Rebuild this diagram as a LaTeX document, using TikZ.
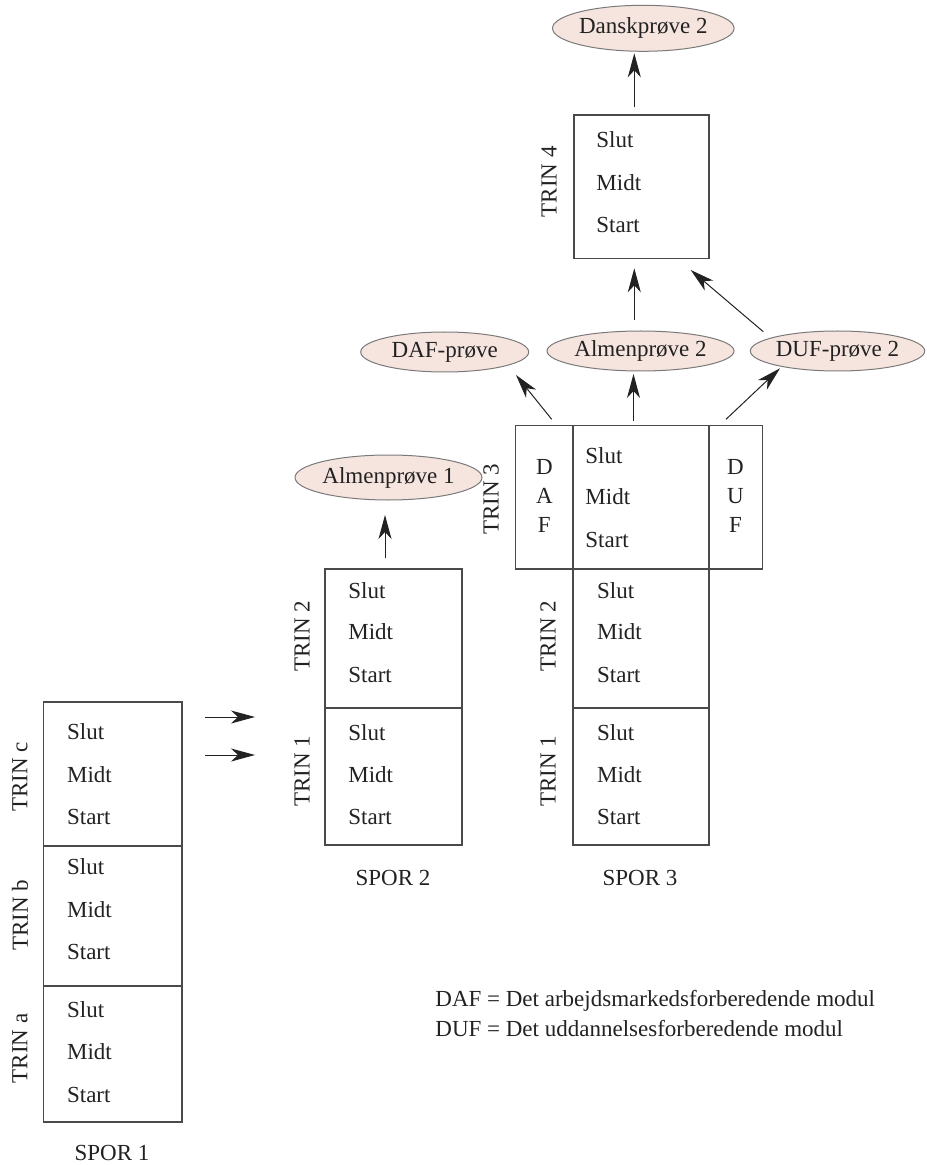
\documentclass[tikz,border=0pt]{standalone}
\usepackage{fontspec}
\setmainfont{Liberation Serif}
\usetikzlibrary{arrows.meta,shapes.geometric}
\definecolor{examfill}{HTML}{F6E4DE}
\definecolor{ink}{HTML}{222222}
\definecolor{edgec}{HTML}{4A4A4A}
\definecolor{ovalc}{HTML}{7A7A7A}
\newcommand\smsStages[5]{%
  \node[lbl] (#1-slut) at (#2,#3) {Slut};
  \node[lbl] (#1-midt) at (#2,#4) {Midt};
  \node[lbl] (#1-start) at (#2,#5) {Start};}
\tikzset{
  sec/.style={draw=edgec, line width=0.7pt, inner sep=0pt, outer sep=0pt},
  lbl/.style={anchor=west, inner sep=0pt, text=ink},
  trin/.style={rotate=90, inner sep=0pt, text=ink},
  spor/.style={inner sep=0pt, text=ink},
  exam/.style={ellipse, draw=ovalc, line width=0.5pt, fill=examfill, inner sep=0pt,
               minimum width=84pt, text=ink},
  arr/.style={-{Stealth[length=12pt,width=6.5pt,inset=3.5pt]}, line width=0.5pt, draw=ink},
  legend/.style={anchor=base west, inner sep=0pt, text=ink},
}
\begin{document}
\begin{tikzpicture}[x=0.5pt,y=-0.5pt, font=\fontsize{11.5}{14.5}\selectfont]
\useasboundingbox (0,0) rectangle (926,1165);

% ---------- SPOR 1 ----------
\node[sec, minimum width=69.25pt, minimum height=72pt] (s1c) at (112.75,774) {};
\node[sec, minimum width=69.25pt, minimum height=70pt] (s1b) at (112.75,916) {};
\node[sec, minimum width=69.25pt, minimum height=68pt] (s1a) at (112.75,1054) {};
\smsStages{s1cT}{66.7}{731.7}{775}{816.7}
\smsStages{s1bT}{66.7}{866.7}{910}{951.7}
\smsStages{s1aT}{66.7}{1010}{1051.7}{1095}
\node[trin] (l1c) at (20,776.7) {TRIN c};
\node[trin] (l1b) at (20,915) {TRIN b};
\node[trin] (l1a) at (20,1048.3) {TRIN a};
\node[spor] (spor1) at (112,1153) {SPOR 1};

% ---------- SPOR 2 ----------
\node[sec, minimum width=68.5pt, minimum height=69.5pt] (s2b) at (393.5,638.5) {};
\node[sec, minimum width=68.5pt, minimum height=68.5pt] (s2a) at (393.5,776.5) {};
\smsStages{s2bT}{348}{590.7}{631.7}{675}
\smsStages{s2aT}{348}{732.7}{775}{816.7}
\node[trin] (l22) at (302,636) {TRIN 2};
\node[trin] (l21) at (302,771) {TRIN 1};
\node[spor] (spor2) at (393,878) {SPOR 2};

% ---------- SPOR 3 ----------
\node[sec, minimum width=68pt, minimum height=69.5pt] (s3b) at (641,638.5) {};
\node[sec, minimum width=68pt, minimum height=68.5pt] (s3a) at (641,776.5) {};
\smsStages{s3bT}{596.7}{590.7}{631.7}{675}
\smsStages{s3aT}{596.7}{732.7}{775}{817}
\node[trin] (l32) at (548,636) {TRIN 2};
\node[trin] (l31) at (548,771) {TRIN 1};
\node[spor] (spor3) at (640,878) {SPOR 3};

% ---------- TRIN 3 ----------
\node[sec, minimum width=28.65pt, minimum height=71.65pt] (t3daf) at (544.35,497.35) {};
\node[sec, minimum width=68pt, minimum height=71.65pt] (t3mid) at (641,497.35) {};
\node[sec, minimum width=26.85pt, minimum height=71.65pt] (t3duf) at (735.85,497.35) {};
\node[inner sep=0pt, align=center, text=ink, font=\fontsize{11.5}{14.5}\selectfont] (dafv) at (544.3,496) {D\\A\\F};
\node[inner sep=0pt, align=center, text=ink, font=\fontsize{11.5}{14.5}\selectfont] (dufv) at (735.5,496) {D\\U\\F};
\smsStages{t3T}{585}{456}{496.7}{540}
\node[trin] (l3) at (491,499) {TRIN 3};

% ---------- TRIN 4 ----------
\node[sec, minimum width=67.5pt, minimum height=71.65pt] (t4) at (641.5,186.65) {};
\smsStages{t4T}{596}{140}{182.7}{225}
\node[trin] (l4) at (549,181.7) {TRIN 4};

% ---------- exams ----------
\node[exam, minimum height=23pt] (dansk) at (643.3,28.3) {Danskprøve 2};
\node[exam, minimum height=22.5pt] (almen1) at (388.5,477.5) {Almenprøve 1};
\node[exam, minimum height=20pt] (dafp) at (444.7,352) {DAF-prøve};
\node[exam, minimum height=20pt] (almen2) at (640.5,351) {Almenprøve 2};
\node[exam, minimum height=20pt] (dufp) at (837.5,351) {DUF-prøve 2};

% ---------- arrow end points ----------
\coordinate (a1s) at (205,717);   \coordinate (a1e) at (255,717);
\coordinate (a2s) at (205,755);   \coordinate (a2e) at (255,755);
\coordinate (a3s) at (385,558);   \coordinate (a3e) at (385,515);
\coordinate (a4s) at (551.7,419.3); \coordinate (a4e) at (516,375);
\coordinate (a5s) at (633.5,420.5); \coordinate (a5e) at (633.5,374);
\coordinate (a6s) at (726,419.3); \coordinate (a6e) at (780,368.3);
\coordinate (a7s) at (634.3,320); \coordinate (a7e) at (634.3,268.3);
\coordinate (a8s) at (763.3,331.7); \coordinate (a8e) at (690.7,270);
\coordinate (a9s) at (634.3,107.3); \coordinate (a9e) at (634.3,53.3);

\draw[arr] (a1s) -- (a1e);
\draw[arr] (a2s) -- (a2e);
\draw[arr] (a3s) -- (a3e);
\draw[arr] (a4s) -- (a4e);
\draw[arr] (a5s) -- (a5e);
\draw[arr] (a6s) -- (a6e);
\draw[arr] (a7s) -- (a7e);
\draw[arr] (a8s) -- (a8e);
\draw[arr] (a9s) -- (a9e);

% ---------- legend ----------
\node[legend] (leg1) at (435,1006.7) {DAF = Det arbejdsmarkedsforberedende modul};
\node[legend] (leg2) at (435,1036.7) {DUF = Det uddannelsesforberedende modul};
\end{tikzpicture}
\end{document}
